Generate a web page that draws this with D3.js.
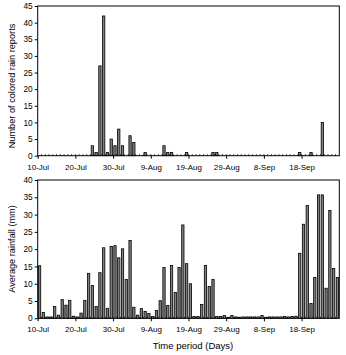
<!DOCTYPE html>
<html>
<head>
<meta charset="utf-8">
<script src="https://cdn.jsdelivr.net/npm/d3@7"></script>
<style>
  html, body { margin: 0; padding: 0; background: #fff; }
  svg { display: block; }
  text { font-family: "Liberation Sans", Arial, sans-serif; fill: #000; }
</style>
</head>
<body>
<script>
// ---- data ----
const nDays = 80; // 10-Jul .. 27-Sep
const tickLabels = ["10-Jul", "20-Jul", "30-Jul", "9-Aug", "19-Aug", "29-Aug", "8-Sep", "18-Sep"];
const tickDays = [0, 10, 20, 30, 40, 50, 60, 70];

// number of coloured rain reports (day index -> count)
const reportDays =   [14, 15, 16, 17, 18, 19, 20, 21, 22, 24, 25, 28, 33, 34, 35, 39, 46, 47, 69, 72, 75];
const reportCounts = [ 3,  1, 27, 42,  1,  5,  3,  8,  3,  6,  4,  1,  3,  1,  1,  1,  1,  1,  1,  1, 10];

// average rainfall (mm), one value per day from 10-Jul
const rainfall = [
  15.2, 1.7, 0.4, 0.4, 3.4, 0.9, 5.4, 3.8, 5.2, 0.6,
  0.4, 1.5, 5.2, 13.0, 9.5, 3.4, 13.2, 20.4, 2.9, 20.8,
  21.0, 17.5, 20.1, 11.2, 22.5, 3.2, 0.9, 2.8, 2.0, 1.4,
  0.5, 2.3, 5.1, 14.7, 3.7, 15.3, 7.5, 14.7, 27.0, 15.8,
  10.0, 0.5, 0.5, 4.0, 15.3, 9.2, 11.2, 0.5, 0.5, 0.8,
  0.3, 0.8, 0.4, 0.3, 0.4, 0.4, 0.4, 0.4, 0.4, 0.8,
  0.3, 0.4, 0.4, 0.4, 0.4, 0.5, 0.4, 0.5, 0.6, 18.8,
  27.2, 32.6, 4.3, 11.8, 35.7, 35.7, 8.7, 31.2, 14.4, 11.8
];

const topTicks = [0, 5, 10, 15, 20, 25, 30, 35, 40, 45];
const botTicks = [0, 5, 10, 15, 20, 25, 30, 35, 40];

// ---- drawing ----
const W = 346, H = 355;
const svg = d3.select("body").append("svg").attr("width", W).attr("height", H);

const x = d3.scaleLinear().domain([0, nDays]).range([37.7, 339.3]);
const barW = 2.3;

function panel(yTop, yBot, maxV, yTicks, data, yLabel, yLabelY) {
  const y = d3.scaleLinear().domain([0, maxV]).range([yBot, yTop]);
  const g = svg.append("g");

  // frame
  g.append("rect")
    .attr("x", x(0)).attr("y", y(maxV))
    .attr("width", x(nDays) - x(0)).attr("height", y(0) - y(maxV))
    .attr("fill", "none").attr("stroke", "#000").attr("stroke-width", 1);

  // bars
  g.selectAll("rect.bar").data(data.filter(d => d.v > 0)).enter().append("rect")
    .attr("class", "bar")
    .attr("x", d => x(d.i + 0.5) - barW / 2)
    .attr("y", d => y(d.v))
    .attr("width", barW)
    .attr("height", d => y(0) - y(d.v))
    .attr("fill", "#808080")
    .attr("stroke", "#000")
    .attr("stroke-width", 0.8);

  // minor ticks (one per day, inside)
  g.selectAll("line.minor").data(d3.range(1, nDays)).enter().append("line")
    .attr("x1", d => x(d)).attr("x2", d => x(d))
    .attr("y1", y(0)).attr("y2", y(0) - 1.5)
    .attr("stroke", "#000").attr("stroke-width", 0.8);

  // y axis
  const ya = d3.axisLeft(y).tickValues(yTicks).tickSize(3).tickPadding(2);
  const yg = g.append("g").attr("transform", `translate(${x(0)},0)`).call(ya);
  yg.select(".domain").remove();
  yg.selectAll("line").attr("stroke", "#000");
  yg.selectAll("text").style("font-size", "8.3px");

  // x axis
  const xa = d3.axisBottom(x).tickValues(tickDays)
    .tickFormat((d, k) => tickLabels[k]).tickSize(3).tickPadding(5.5);
  const xg = g.append("g").attr("transform", `translate(0,${y(0)})`).call(xa);
  xg.select(".domain").remove();
  xg.selectAll("line").attr("stroke", "#000");
  xg.selectAll("text").style("font-size", "8px");

  // y label
  svg.append("text")
    .attr("transform", `translate(13,${yLabelY}) rotate(-90)`)
    .attr("text-anchor", "middle")
    .attr("dominant-baseline", "middle")
    .style("font-size", "9.2px")
    .text(yLabel);
}

const reportsData = d3.range(nDays).map(i => {
  const k = reportDays.indexOf(i);
  return { i, v: k >= 0 ? reportCounts[k] : 0 };
});
const rainData = rainfall.map((v, i) => ({ i, v }));

panel(6, 155.7, 45, topTicks, reportsData, "Number of colored rain reports", 86);
panel(180, 318.3, 40, botTicks, rainData, "Average rainfall (mm)", 249);

svg.append("text")
  .attr("x", 193).attr("y", 349)
  .attr("text-anchor", "middle")
  .style("font-size", "9.5px")
  .text("Time period (Days)");
</script>
</body>
</html>
